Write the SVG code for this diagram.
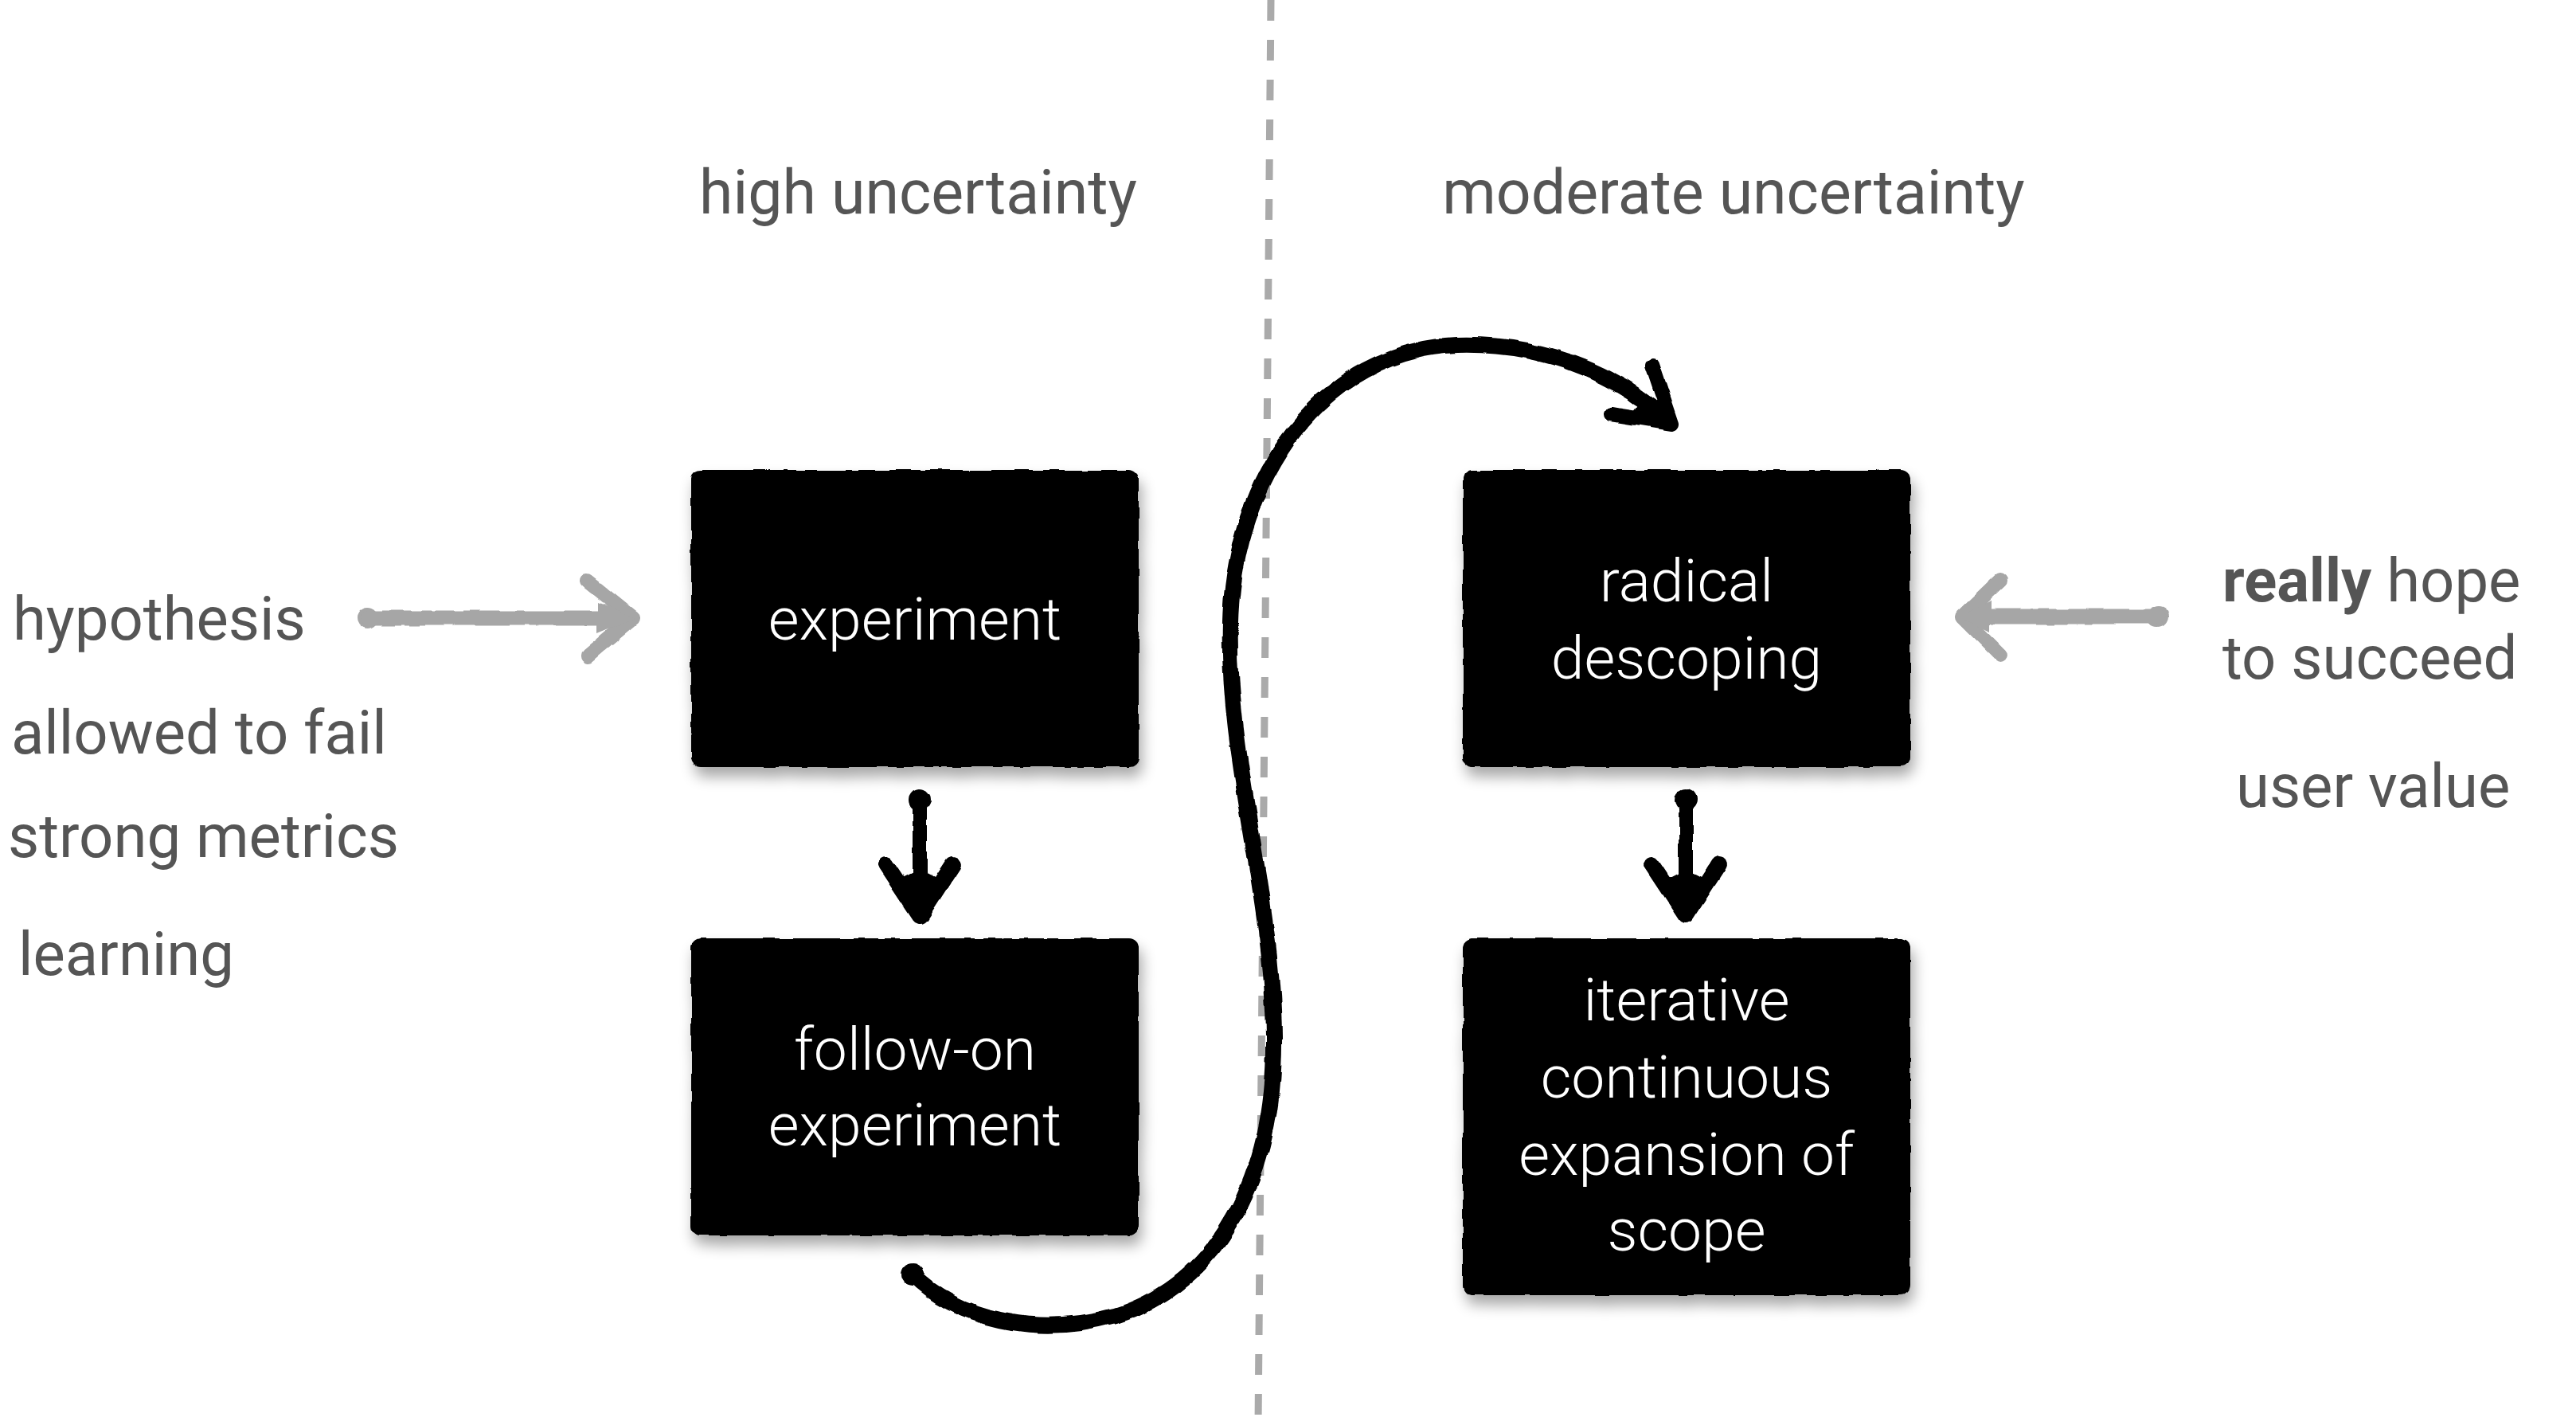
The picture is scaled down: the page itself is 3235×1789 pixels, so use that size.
<svg xmlns="http://www.w3.org/2000/svg" width="3235" height="1789" viewBox="0 0 3235 1789">
  <style>
    .label { font-family: Roboto, "Liberation Sans", sans-serif; font-size: 76px; fill: #555555; }
    .head  { font-family: Roboto, "Liberation Sans", sans-serif; font-size: 77px; fill: #555555; text-anchor: middle; }
    .box   { fill: #000000; filter: url(#boxfx); }
    .boxtext { font-family: Roboto, "Liberation Sans", sans-serif; font-weight: 300; font-size: 75px; fill: #ffffff; text-anchor: middle; }
    .ink   { fill: none; stroke: #000000; stroke-linecap: round; stroke-linejoin: round; }
    .grey  { fill: none; stroke: #a6a6a6; stroke-linecap: round; stroke-linejoin: round; }
  </style>
  <defs>
    <!-- brush-like wobble for hand drawn strokes -->
    <filter id="rough" x="-10%" y="-10%" width="120%" height="120%">
      <feTurbulence type="fractalNoise" baseFrequency="0.035" numOctaves="2" seed="3" result="n"/>
      <feDisplacementMap in="SourceGraphic" in2="n" scale="6" xChannelSelector="R" yChannelSelector="G"/>
    </filter>
    <!-- slightly ragged card with a soft shadow beneath -->
    <filter id="boxfx" x="-10%" y="-10%" width="120%" height="130%">
      <feTurbulence type="fractalNoise" baseFrequency="0.04" numOctaves="2" seed="7" result="n"/>
      <feDisplacementMap in="SourceGraphic" in2="n" scale="5" xChannelSelector="R" yChannelSelector="G" result="d"/>
      <feGaussianBlur in="d" stdDeviation="9" result="b"/>
      <feOffset in="b" dx="4" dy="12" result="o"/>
      <feComponentTransfer in="o" result="s"><feFuncA type="linear" slope="0.35"/></feComponentTransfer>
      <feMerge><feMergeNode in="s"/><feMergeNode in="d"/></feMerge>
    </filter>
  </defs>

  <rect width="3235" height="1789" fill="#ffffff"/>

  <!-- divider between the two regimes -->
  <line x1="1596" y1="0" x2="1580" y2="1789" stroke="#aaaaaa" stroke-width="9" stroke-dasharray="26 24"/>

  <text class="head" x="1153" y="268">high uncertainty</text>
  <text class="head" x="2177" y="268">moderate uncertainty</text>

  <g id="left-labels">
    <text class="label" x="16" y="803">hypothesis</text>
    <text class="label" x="14" y="946">allowed to fail</text>
    <text class="label" x="10" y="1076">strong metrics</text>
    <text class="label" x="23" y="1224">learning</text>
  </g>
  <g id="right-labels">
    <text class="label" x="2791" y="755"><tspan font-weight="700">really</tspan> hope</text>
    <text class="label" x="2791" y="852">to succeed</text>
    <text class="label" x="2808" y="1013">user value</text>
  </g>

  <g id="experiment">
    <rect class="box" x="868" y="590" width="562" height="373" rx="12"/>
    <text class="boxtext" x="1149" y="803">experiment</text>
  </g>
  <g id="follow-on">
    <rect class="box" x="868" y="1178" width="562" height="373" rx="12"/>
    <text class="boxtext" x="1149" y="1343">follow-on</text>
    <text class="boxtext" x="1149" y="1438">experiment</text>
  </g>
  <g id="descoping">
    <rect class="box" x="1837" y="590" width="562" height="373" rx="12"/>
    <text class="boxtext" x="2118" y="755">radical</text>
    <text class="boxtext" x="2118" y="852">descoping</text>
  </g>
  <g id="expansion">
    <rect class="box" x="1837" y="1178" width="562" height="448" rx="12"/>
    <text class="boxtext" x="2118" y="1281">iterative</text>
    <text class="boxtext" x="2118" y="1378">continuous</text>
    <text class="boxtext" x="2118" y="1475">expansion of</text>
    <text class="boxtext" x="2118" y="1570">scope</text>
  </g>

  <g id="connectors" filter="url(#rough)">
    <!-- hypothesis feeds the experiment -->
    <g id="hyp-arrow">
      <circle cx="462" cy="776" r="14" fill="#a6a6a6"/>
      <path class="grey" d="M462,776 L785,776" stroke-width="19"/>
      <path class="grey" d="M738,730 L795,776 L738,824" stroke-width="18"/>
      <path d="M750,756 L798,776 L750,796 Z" fill="#a6a6a6"/>
    </g>
    <!-- hope to succeed feeds the descoping -->
    <g id="hope-arrow">
      <circle cx="2710" cy="774" r="14" fill="#a6a6a6"/>
      <path class="grey" d="M2710,774 L2472,774" stroke-width="19"/>
      <path class="grey" d="M2512,728 L2464,774 L2512,822" stroke-width="18"/>
      <path d="M2500,754 L2461,774 L2500,794 Z" fill="#a6a6a6"/>
    </g>
    <!-- experiment to follow-on -->
    <g id="down-left">
      <circle cx="1155" cy="1004" r="14" fill="#000"/>
      <path class="ink" d="M1155,1004 L1155,1140" stroke-width="18"/>
      <path class="ink" d="M1112,1085 L1155,1150 L1197,1085" stroke-width="20"/>
      <path d="M1128,1106 L1155,1157 L1182,1106 L1155,1092 Z" fill="#000"/>
    </g>
    <!-- descoping to expansion -->
    <g id="down-right">
      <circle cx="2117" cy="1004" r="14" fill="#000"/>
      <path class="ink" d="M2117,1004 L2117,1140" stroke-width="18"/>
      <path class="ink" d="M2074,1085 L2117,1150 L2159,1085" stroke-width="20"/>
      <path d="M2090,1106 L2117,1157 L2144,1106 L2117,1092 Z" fill="#000"/>
    </g>
    <!-- crossing from the experiments into the moderate side -->
    <g id="crossover">
      <circle cx="1146" cy="1600" r="15" fill="#000"/>
      <path class="ink" d="M1146,1600 C1200,1655 1300,1680 1400,1652 C1530,1612 1602,1480 1600,1300 C1598,1120 1540,950 1545,780 C1550,600 1660,440 1830,433 C1950,430 2040,478 2095,528" stroke-width="20"/>
      <path class="ink" d="M2075,458 L2100,532 L2024,520" stroke-width="18"/>
      <path d="M2066,496 L2102,534 L2046,524 Z" fill="#000"/>
    </g>
  </g>
</svg>
